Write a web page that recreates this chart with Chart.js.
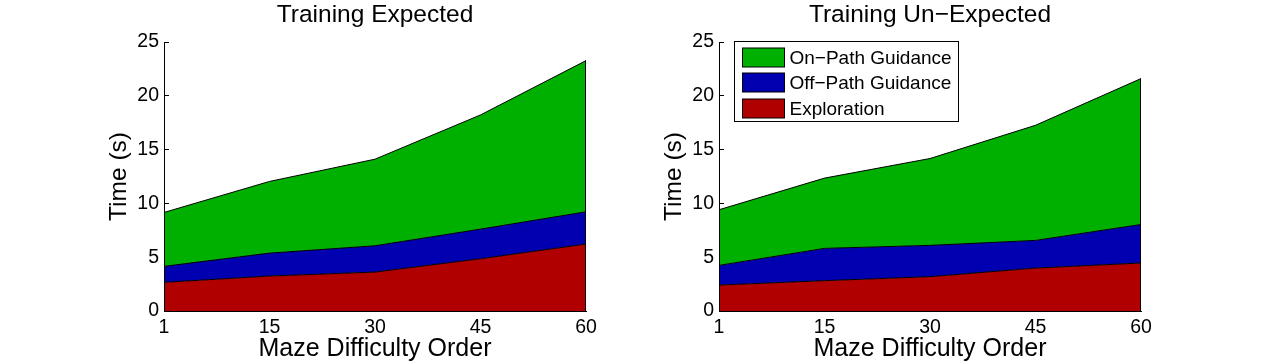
<!DOCTYPE html>
<html>
<head>
<meta charset="utf-8">
<script src="https://cdn.jsdelivr.net/npm/chart.js@4.4.1/dist/chart.umd.min.js"></script>
<style>
  html, body { margin: 0; padding: 0; background: #fff; }
  #wrap { position: relative; width: 1261px; height: 364px; overflow: hidden; }
  canvas { position: absolute; top: 0; }
  #c1 { left: 0; }
  #c2 { left: 555px; }
</style>
</head>
<body>
<div id="wrap">
  <canvas id="c1" width="630" height="364"></canvas>
  <canvas id="c2" width="630" height="364"></canvas>
</div>
<script>
// ---- data ----
const categories = ['1', '15', '30', '45', '60'];
const seriesNames = ['Exploration', 'Off\u2212Path Guidance', 'On\u2212Path Guidance'];
const seriesColors = ['#b00000', '#0000b0', '#00b000'];

const expectedExploration = [2.66, 3.25, 3.62, 4.86, 6.22];
const expectedOffPath     = [1.49, 2.13, 2.44, 2.75, 3.00];
const expectedOnPath      = [5.01, 6.66, 8.05, 10.61, 14.05];

const unexpectedExploration = [2.41, 2.82, 3.19, 3.99, 4.46];
const unexpectedOffPath     = [1.83, 3.00, 2.91, 2.57, 3.58];
const unexpectedOnPath      = [5.17, 6.53, 8.07, 10.70, 13.56];

const yMin = 0, yMax = 25, yStep = 5;
const titles = ['Training Expected', 'Training Un\u2212Expected'];
const xTitle = 'Maze Difficulty Order';
const yTitle = 'Time (s)';

const FONT = "'Liberation Sans', Arial, Helvetica, sans-serif";

// black right-hand edge of the stacked area patch (MATLAB style)
const areaEdge = {
  id: 'areaEdge',
  afterDatasetsDraw(chart) {
    const xs = chart.scales.x, ys = chart.scales.y;
    const last = chart.data.labels.length - 1;
    let total = 0;
    chart.data.datasets.forEach(d => total += d.data[last]);
    const ctx = chart.ctx;
    ctx.save();
    ctx.strokeStyle = '#000';
    ctx.lineWidth = 1;
    const x = Math.round(xs.getPixelForValue(last)) - 0.5;
    ctx.beginPath();
    ctx.moveTo(x, ys.getPixelForValue(0));
    ctx.lineTo(x, ys.getPixelForValue(total));
    ctx.stroke();
    ctx.restore();
  }
};

// boxed legend inside the plot area
const insetLegend = {
  id: 'insetLegend',
  afterDraw(chart, args, opts) {
    if (!opts.display) return;
    const ctx = chart.ctx;
    const ca = chart.chartArea;
    const items = chart.data.datasets.slice().reverse();
    ctx.save();
    ctx.font = opts.fontSize + 'px ' + FONT;
    let maxW = 0;
    items.forEach(d => { maxW = Math.max(maxW, ctx.measureText(d.label).width); });
    const x0 = Math.round(ca.left + opts.offsetX) + 0.5;
    const y0 = Math.round(ca.top + opts.offsetY) + 0.5;
    const w = Math.round(opts.padLeft + opts.swatchW + opts.gap + maxW + opts.padRight);
    const h = Math.round(opts.padTop + opts.rowH * (items.length - 1) + opts.swatchH + opts.padBottom);
    ctx.fillStyle = '#fff';
    ctx.fillRect(x0, y0, w, h);
    ctx.strokeStyle = '#000';
    ctx.lineWidth = 1;
    ctx.strokeRect(x0, y0, w, h);
    items.forEach((d, i) => {
      const sx = x0 + opts.padLeft;
      const sy = Math.round(y0 + opts.padTop + i * opts.rowH);
      ctx.fillStyle = d.backgroundColor;
      ctx.fillRect(sx, sy, opts.swatchW, opts.swatchH);
      ctx.strokeStyle = '#000';
      ctx.strokeRect(sx, sy, opts.swatchW, opts.swatchH);
      ctx.fillStyle = '#000';
      ctx.textBaseline = 'middle';
      ctx.textAlign = 'left';
      ctx.fillText(d.label, sx + opts.swatchW + opts.gap, sy + opts.swatchH / 2 + 1);
    });
    ctx.restore();
  }
};

function makeDatasets(values) {
  return values.map((v, i) => ({
    label: seriesNames[i],
    data: v,
    backgroundColor: seriesColors[i],
    borderColor: '#000',
    borderWidth: 1,
    pointRadius: 0,
    tension: 0,
    fill: i === 0 ? 'origin' : '-1'
  }));
}

function makeChart(id, title, values, showLegend) {
  return new Chart(document.getElementById(id), {
    type: 'line',
    data: { labels: categories, datasets: makeDatasets(values) },
    plugins: [areaEdge, insetLegend],
    options: {
      responsive: false,
      animation: false,
      devicePixelRatio: 1,
      layout: { padding: { left: 0, right: 44, top: 0, bottom: 0 } },
      plugins: {
        legend: { display: false },
        tooltip: { enabled: false },
        title: {
          display: true,
          text: title,
          fullSize: false,
          color: '#000',
          font: { family: FONT, size: 24.5, weight: 'normal' },
          padding: { top: 1, bottom: 11.6 }
        },
        insetLegend: {
          display: showLegend,
          offsetX: 15, offsetY: -1,
          fontSize: 19,
          padLeft: 8, padRight: 7, padTop: 6, padBottom: 4,
          swatchW: 42, swatchH: 19, gap: 5, rowH: 25.5
        }
      },
      scales: {
        x: {
          type: 'category',
          offset: false,
          grid: { display: false, drawTicks: false },
          border: { display: true, color: '#000', width: 1, z: 1 },
          ticks: { color: '#000', font: { family: FONT, size: 19.5 }, padding: 5, maxRotation: 0, autoSkip: false },
          title: { display: true, text: xTitle, color: '#000', font: { family: FONT, size: 25 }, padding: { top: 0, bottom: 0 } },
          afterFit(scale) { scale.height = 53; }
        },
        y: {
          stacked: true,
          min: yMin, max: yMax,
          grid: { display: true, drawOnChartArea: false, drawTicks: true, tickLength: -5, color: '#000' },
          border: { display: true, color: '#000', width: 1, z: 1 },
          ticks: { stepSize: yStep, color: '#000', font: { family: FONT, size: 19.5 }, padding: 10 },
          title: { display: true, text: yTitle, color: '#000', font: { family: FONT, size: 24.5 }, padding: { top: 105, bottom: 0 } },
          afterFit(scale) { scale.width = 164; }
        }
      }
    }
  });
}

makeChart('c1', titles[0], [expectedExploration, expectedOffPath, expectedOnPath], false);
makeChart('c2', titles[1], [unexpectedExploration, unexpectedOffPath, unexpectedOnPath], true);
</script>
</body>
</html>
